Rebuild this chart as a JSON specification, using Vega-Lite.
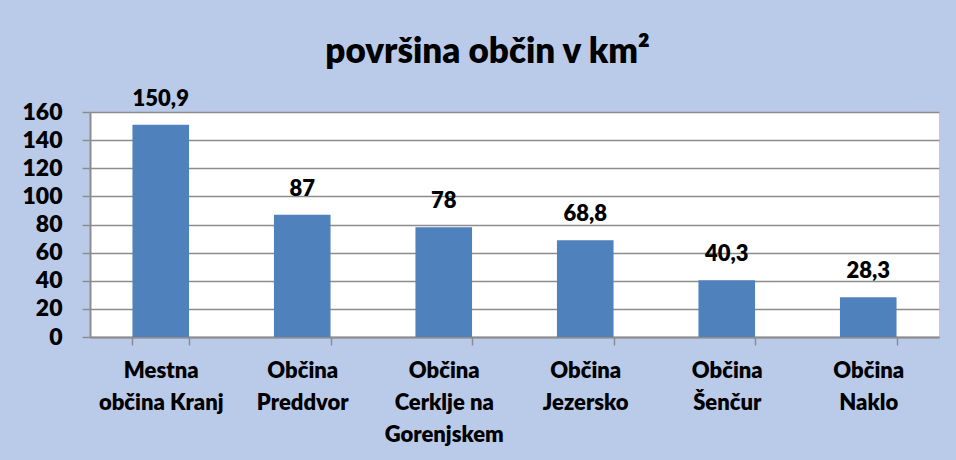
{
  "$schema": "https://vega.github.io/schema/vega-lite/v6.json",
  "width": 849,
  "height": 225,
  "autosize": {"type": "none"},
  "padding": {"left": 90, "top": 112, "right": 17, "bottom": 123},
  "background": "#BACBEA",
  "config": {
    "locale": {"number": {"decimal": ",", "thousands": ".", "grouping": [3], "currency": ["", " €"]}},
    "view": {"fill": "white", "stroke": null},
    "font": "Lato"
  },
  "title": {
    "text": "površina občin v km²",
    "fontSize": 35,
    "fontWeight": 800,
    "font": "Lato",
    "color": "black",
    "anchor": "middle",
    "dx": -27,
    "offset": 18
  },
  "data": {
    "values": [
      {"obcina": "Mestna občina Kranj", "povrsina": 150.9},
      {"obcina": "Občina Preddvor", "povrsina": 87},
      {"obcina": "Občina Cerklje na Gorenjskem", "povrsina": 78},
      {"obcina": "Občina Jezersko", "povrsina": 68.8},
      {"obcina": "Občina Šenčur", "povrsina": 40.3},
      {"obcina": "Občina Naklo", "povrsina": 28.3}
    ]
  },
  "encoding": {
    "x": {
      "field": "obcina",
      "type": "nominal",
      "sort": null,
      "scale": {"paddingInner": 0.6, "paddingOuter": 0.3},
      "axis": {
        "title": null,
        "labelAngle": 0,
        "labelFont": "Lato",
        "labelFontSize": 22,
        "labelFontWeight": 800,
        "labelColor": "black",
        "labelBaseline": "top",
        "labelLineHeight": 32,
        "labelPadding": 15,
        "labelLimit": 200,
        "tickBand": "extent",
        "tickSize": 8,
        "tickWidth": 1.5,
        "tickColor": "#8C8C8C",
        "domainColor": "#8C8C8C",
        "domainWidth": 2,
        "labelExpr": "datum.label == 'Mestna občina Kranj' ? ['Mestna', 'občina Kranj'] : datum.label == 'Občina Cerklje na Gorenjskem' ? ['Občina', 'Cerklje na', 'Gorenjskem'] : split(datum.label, ' ')"
      }
    },
    "y": {
      "field": "povrsina",
      "type": "quantitative",
      "scale": {"domain": [0, 160], "nice": false},
      "axis": {
        "title": null,
        "values": [0, 20, 40, 60, 80, 100, 120, 140, 160],
        "labelFont": "Lato",
        "labelFontSize": 23,
        "labelFontWeight": 800,
        "labelColor": "black",
        "labelPadding": 20,
        "tickSize": 8,
        "tickWidth": 1.5,
        "tickColor": "#8C8C8C",
        "domainColor": "#8C8C8C",
        "domainWidth": 2,
        "gridColor": "#8C8C8C",
        "gridWidth": 1.5,
        "gridOpacity": 1
      }
    }
  },
  "layer": [
    {"mark": {"type": "bar", "color": "#4F81BD"}},
    {
      "mark": {"type": "text", "baseline": "alphabetic", "dy": -19, "fontSize": 22, "fontWeight": 800, "font": "Lato", "color": "black"},
      "encoding": {"text": {"field": "povrsina", "type": "quantitative", "format": "~g"}}
    }
  ]
}
